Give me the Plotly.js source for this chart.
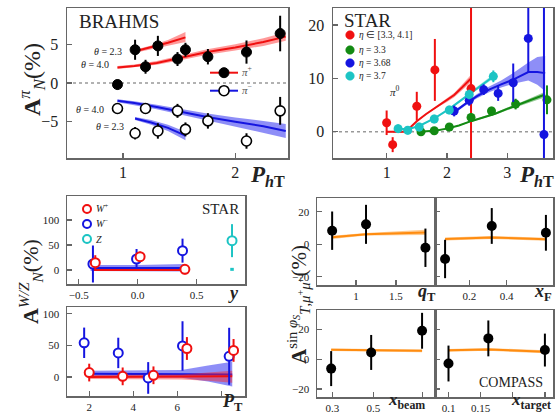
<!DOCTYPE html>
<html><head><meta charset="utf-8">
<script src="https://cdn.plot.ly/plotly-3.0.1.min.js"></script>
<style>body{margin:0;background:#fff}</style>
</head><body><div id="chart" style="width:560px;height:415px"></div>
<script>
// ---------- Panel 1: BRAHMS ----------
const brahmsPt = [0.95,1.107,1.20,1.31,1.485,1.556,1.756,2.10,2.40];
const brahmsPipA = [-0.2,4.3,2.1,4.8,3.1,4.3,3.4,4.0,6.4];
const brahmsPipErr = [0.65,1.3,0.9,1.3,0.9,0.9,1.0,1.5,2.3];
const brahmsPimA = [-3.3,-6.5,-3.3,-6.2,-3.6,-6.0,-4.9,-7.5,-3.6];
const brahmsPimErr = [0.6,0.8,0.7,1.0,0.9,0.9,1.0,1.0,1.8];
const th40Pt = [0.95,1.1,1.3,1.5,1.75,2.0,2.25,2.45];
const pip40 = [2.0,2.2,2.6,3.2,4.0,4.6,5.3,6.0];
const pip40Lo = [1.8,2.0,2.35,2.9,3.65,4.2,4.8,5.45];
const pip40Hi = [2.2,2.4,2.85,3.5,4.35,5.0,5.8,6.55];
const pim40 = [-2.3,-2.6,-3.1,-3.7,-4.4,-5.0,-5.6,-6.2];
const pim40Lo = [-2.5,-2.85,-3.4,-4.05,-4.85,-5.6,-6.4,-7.1];
const pim40Hi = [-2.1,-2.35,-2.8,-3.35,-3.95,-4.45,-4.9,-5.3];
const th23Pt = [1.107,1.25,1.4,1.556];
const pip23 = [4.1,4.6,5.2,5.9];
const pip23Lo = [3.9,4.35,4.85,5.3];
const pip23Hi = [4.3,4.85,5.55,6.6];
const pim23 = [-4.6,-5.1,-5.8,-6.8];
const pim23Lo = [-4.8,-5.4,-6.2,-7.4];
const pim23Hi = [-4.4,-4.8,-5.4,-6.3];

// ---------- Panel 2: STAR pi0 ----------
const starRedPt = [1.0,1.10,1.50,1.80,2.40];
const starRedA = [1.7,-2.4,4.8,11.6,8.1];
const starRedErr = [2.3,1.4,2.7,5.8,40];
const starGreenPt = [1.57,1.79,2.04,2.40,2.74,3.14,3.66];
const starGreenA = [0.0,0.2,0.9,2.7,3.9,5.2,6.0];
const starGreenErr = [0.5,0.5,0.6,0.8,0.8,1.0,2.7];
const starBluePt = [2.12,2.37,2.61,2.85,3.10,3.35,3.61];
const starBlueA = [3.9,5.9,7.9,7.2,9.2,17.5,-0.5];
const starBlueErr = [1.0,1.0,1.0,1.4,3.6,6.3,40];
const starCyanPt = [1.19,1.35,1.54,1.79,2.04,2.37,2.77];
const starCyanA = [0.6,0.3,0.9,2.4,4.1,7.0,10.4];
const starCyanErr = [0.8,0.8,0.8,0.8,0.8,0.9,1.1];
const thRedPt = [1.0,1.3,1.4,1.5,1.65,1.83,2.0,2.12,2.25,2.4];
const thRed = [0,0,0.9,2.0,3.3,4.7,5.9,6.9,8.3,10.0];
const thRedLo = [-0.1,-0.1,0.8,1.9,3.15,4.5,5.6,6.5,7.8,9.3];
const thRedHi = [0.1,0.1,1.0,2.1,3.45,4.9,6.2,7.3,8.8,10.7];
const thCyanPt = [1.19,1.35,1.54,1.79,2.04,2.37,2.8];
const thCyan = [0.6,0.5,1.1,2.5,4.3,7.1,10.6];
const thCyanLo = [0.5,0.4,1.0,2.35,4.1,6.85,10.2];
const thCyanHi = [0.7,0.6,1.2,2.65,4.5,7.35,11.0];
const thGreenPt = [1.53,1.8,2.0,2.2,2.4,2.6,2.8,3.0,3.2,3.4,3.63];
const thGreen = [0,0.2,0.6,1.2,2.0,2.7,3.4,4.3,5.1,6.0,7.0];
const thGreenLo = [-0.1,0.1,0.5,1.1,1.85,2.5,3.2,4.05,4.8,5.6,6.5];
const thGreenHi = [0.1,0.3,0.7,1.3,2.15,2.9,3.6,4.55,5.4,6.4,7.5];
const thBluePt = [2.11,2.3,2.5,2.7,2.9,3.1,3.35,3.5,3.63];
const thBlue = [3.6,5.2,6.7,7.9,8.9,9.8,11.2,11.2,11.0];
const thBlueLo = [3.3,4.9,6.3,7.4,8.3,9.0,9.6,8.8,7.6];
const thBlueHi = [3.9,5.5,7.1,8.5,9.6,11.0,13.0,14.0,14.2];

// ---------- Panel 3: STAR W/Z vs y ----------
const wpY = [-0.36,0.02,0.40];
const wpYA = [14.6,26.7,1.3];
const wpYErr = [15,10,10];
const wmY = [-0.38,-0.01,0.38];
const wmYA = [12,22,38.7];
const wmYErr = [37,20,24];
const zY = [0.80];
const zYA = [58.7];
const zYErr = [33];
const zThY = [0.785,0.815];
const zTh = [1.3,1.3];
const thWmY = [-0.4,0.0,0.4];
const thWmYc = [4,4,4];
const thWmYLo = [-2,-2,-3];
const thWmYHi = [10,10,12];
const thWpY = [-0.38,0.0,0.4];
const thWpYc = [0,0,0];
const thWpYLo = [-2,-2,-2];
const thWpYHi = [2,2,2];

// ---------- Panel 4: STAR W vs PT ----------
const wmPt = [1.77,3.32,4.68,6.24,8.36];
const wmPtA = [54,38,-1.5,49,32.7];
const wmPtErr = [24,24,25,39,45];
const wpPt = [2.0,3.52,4.92,6.44,8.56];
const wpPtA = [7,1,2.7,45,42];
const wpPtErr = [14,14,14,18,18];
const thPt = [2,3.5,5,6.2,7.4,8.5];
const thWmPt = [5,5,5,5,4.5,4];
const thWmPtLo = [0,0,0,-1,-7,-15];
const thWmPtHi = [10,10,10,11,18,24];
const thWpPt = [0,0,0,0.5,1,1];
const thWpPtLo = [-3,-3,-3,-4,-6,-9];
const thWpPtHi = [3,3,3,4,7,10];

// ---------- Panels 5-8: COMPASS ----------
const qT = [0.70,1.125,1.87];
const qTA = [8.4,12.3,-2.1];
const qTErr = [11.8,12,11.8];
const qTTh = [4.3,6.2,7.3];
const qTThLo = [3.3,5.4,5.7];
const qTThHi = [5.3,7.0,8.9];
const xF = [0.07,0.32,0.61];
const xFA = [-9,11.3,7.1];
const xFErr = [11.8,11,11];
const xFTh = [3.3,4.2,3.1];
const xFThLo = [2.4,3.3,2.2];
const xFThHi = [4.2,5.1,4.0];
const xBeam = [0.294,0.489,0.737];
const xBeamA = [-6.3,4.5,19];
const xBeamErr = [11.7,11.7,12];
const xBeamTh = [6.3,6.0,5.6];
const xBeamThLo = [5.4,5.1,4.7];
const xBeamThHi = [7.2,6.9,6.5];
const xTarget = [0.10,0.162,0.25];
const xTargetA = [-2.9,13.9,6.1];
const xTargetErr = [12,12,11];
const xTargetTh = [5.9,6.5,5.0];
const xTargetThLo = [5.0,5.6,4.0];
const xTargetThHi = [6.8,7.4,6.0];

// ---------- colours ----------
const RED = '#f01010', BLUE = '#1515e0', GREEN = '#138a13', CYAN = '#1cc4c4', ORANGE = '#ff8c10';
const RED_B = 'rgba(255,30,30,0.45)', BLUE_B = 'rgba(30,30,240,0.5)', GREEN_B = 'rgba(20,140,20,0.45)',
      CYAN_B = 'rgba(30,200,200,0.45)', ORANGE_B = 'rgba(255,150,30,0.5)';
const SERIF = 'Liberation Serif, Times New Roman, serif';

const W = 560, H = 415;
const px = v => v / W, py = v => 1 - v / H;

const traces = [];
function band(n, x, lo, hi, fc) {
  traces.push({type:'scatter', mode:'lines', x:x, y:lo, xaxis:'x'+n, yaxis:'y'+n,
    line:{width:0, color:fc}, hoverinfo:'skip'});
  traces.push({type:'scatter', mode:'lines', x:x, y:hi, xaxis:'x'+n, yaxis:'y'+n,
    line:{width:0, color:fc}, fill:'tonexty', fillcolor:fc, hoverinfo:'skip'});
}
function line(n, x, y, c, w) {
  traces.push({type:'scatter', mode:'lines', x:x, y:y, xaxis:'x'+n, yaxis:'y'+n,
    line:{width:w||2, color:c}});
}
function pts(n, x, y, e, c, fill, size, lw) {
  traces.push({type:'scatter', mode:'markers', x:x, y:y, xaxis:'x'+n, yaxis:'y'+n,
    marker:{size:size, color:fill, line:{color:c, width:lw}},
    error_y:{type:'data', array:e, visible:true, color:c, thickness:2, width:0}});
}

// panel 1
band('', th40Pt, pip40Lo, pip40Hi, RED_B); line('', th40Pt, pip40, RED, 2);
band('', th23Pt, pip23Lo, pip23Hi, RED_B); line('', th23Pt, pip23, RED, 2);
band('', th40Pt, pim40Lo, pim40Hi, BLUE_B); line('', th40Pt, pim40, BLUE, 2);
band('', th23Pt, pim23Lo, pim23Hi, BLUE_B); line('', th23Pt, pim23, BLUE, 2);
pts('', brahmsPt, brahmsPipA, brahmsPipErr, '#000', '#000', 10, 1);
pts('', brahmsPt, brahmsPimA, brahmsPimErr, '#000', '#fff', 10, 1.6);

// panel 2
band('2', thRedPt, thRedLo, thRedHi, RED_B); line('2', thRedPt, thRed, RED, 2);
band('2', thGreenPt, thGreenLo, thGreenHi, GREEN_B); line('2', thGreenPt, thGreen, GREEN, 2);
band('2', thBluePt, thBlueLo, thBlueHi, BLUE_B); line('2', thBluePt, thBlue, BLUE, 2);
band('2', thCyanPt, thCyanLo, thCyanHi, CYAN_B); line('2', thCyanPt, thCyan, CYAN, 2);
pts('2', starRedPt, starRedA, starRedErr, RED, RED, 9, 0);
pts('2', starGreenPt, starGreenA, starGreenErr, GREEN, GREEN, 9, 0);
pts('2', starBluePt, starBlueA, starBlueErr, BLUE, BLUE, 9, 0);
pts('2', starCyanPt, starCyanA, starCyanErr, CYAN, CYAN, 9, 0);

// panel 3
band('3', thWmY, thWmYLo, thWmYHi, BLUE_B); line('3', thWmY, thWmYc, BLUE, 2);
band('3', thWpY, thWpYLo, thWpYHi, RED_B); line('3', thWpY, thWpYc, RED, 2);
line('3', zThY, zTh, CYAN, 3);
pts('3', wmY, wmYA, wmYErr, BLUE, '#fff', 9, 2);
pts('3', wpY, wpYA, wpYErr, RED, '#fff', 9, 2);
pts('3', zY, zYA, zYErr, CYAN, '#fff', 9, 2);

// panel 4
band('4', thPt, thWmPtLo, thWmPtHi, BLUE_B); line('4', thPt, thWmPt, BLUE, 2);
band('4', thPt, thWpPtLo, thWpPtHi, RED_B); line('4', thPt, thWpPt, RED, 2);
pts('4', wmPt, wmPtA, wmPtErr, BLUE, '#fff', 9, 2);
pts('4', wpPt, wpPtA, wpPtErr, RED, '#fff', 9, 2);

// panels 5-8
band('5', qT, qTThLo, qTThHi, ORANGE_B); line('5', qT, qTTh, ORANGE, 2);
pts('5', qT, qTA, qTErr, '#000', '#000', 10, 0);
band('6', xF, xFThLo, xFThHi, ORANGE_B); line('6', xF, xFTh, ORANGE, 2);
pts('6', xF, xFA, xFErr, '#000', '#000', 10, 0);
band('7', xBeam, xBeamThLo, xBeamThHi, ORANGE_B); line('7', xBeam, xBeamTh, ORANGE, 2);
pts('7', xBeam, xBeamA, xBeamErr, '#000', '#000', 10, 0);
band('8', xTarget, xTargetThLo, xTargetThHi, ORANGE_B); line('8', xTarget, xTargetTh, ORANGE, 2);
pts('8', xTarget, xTargetA, xTargetErr, '#000', '#000', 10, 0);

// ---------- axes ----------
const FRAME = '#666';
function axis(dom, range, tv, tt, anchor, fs, opts) {
  opts = opts || {};
  const a = {domain:dom, range:range, tickvals:tv, ticktext:tt, tickmode:'array', anchor:anchor,
    showline:true, mirror:true, linecolor:FRAME, linewidth:1.5, ticks:'inside', ticklen:5,
    tickcolor:FRAME, tickwidth:1.2, showgrid:false, zeroline:false,
    showticklabels:opts.noLabels ? false : true, ticklabelstandoff:(opts.standoff!==undefined ? opts.standoff : 4),
    tickfont:{family:SERIF, size:fs, color:'#222'}, fixedrange:true};
  if (opts.minor) a.minor = {tickmode:'array', tickvals:opts.minor, ticks:'inside', ticklen:5,
    tickcolor:FRAME, tickwidth:1.2, showgrid:false};
  return a;
}
const dTop = [py(158), py(8)];
const layout = {
  width:W, height:H, margin:{l:0,r:0,t:0,b:0}, showlegend:false,
  paper_bgcolor:'#fff', plot_bgcolor:'#fff',
  xaxis: axis([px(67),px(288)], [0.5,2.47], [1,2], ['1','2'], 'y', 16, {standoff:-1}),
  yaxis: axis(dTop, [-9.7,9.7], [-5,0,5], ['\u22125','0','5'], 'x', 16),
  xaxis2: axis([px(333),px(553)], [0.11,3.76], [1,2,3], ['1','2','3'], 'y2', 16, {standoff:-1}),
  yaxis2: axis(dTop, [-4.9,23.2], [0,10,20], ['0','10','20'], 'x2', 16),
  xaxis3: axis([px(67),px(245)], [-0.60,0.91], [-0.5,0,0.5], ['\u22120.5','0.0','0.5'], 'y3', 11, {standoff:0}),
  yaxis3: axis([py(284),py(196)], [-28,148], [0,50,100], ['0','50','100'], 'x3', 11),
  xaxis4: axis([px(67),px(245)], [0.99,9.08], [2,4,6], ['2','4','6'], 'y4', 11, {standoff:0, minor:[8]}),
  yaxis4: axis([py(396),py(307)], [-30,110.5], [0,50,100], ['0','50','100'], 'x4', 11),
  xaxis5: axis([px(317),px(435)], [0.51,1.99], [1,1.5], ['1','1.5'], 'y5', 11, {standoff:0}),
  yaxis5: axis([py(285),py(198)], [-25,28.5], [-20,0,20], ['\u221220','0','20'], 'x5', 11),
  xaxis6: axis([px(435),px(553)], [0.016,0.648], [0.2,0.4], ['0.2','0.4'], 'y6', 11, {standoff:0}),
  yaxis6: axis([py(285),py(198)], [-25,28.5], [-20,0,20], ['\u221220','0','20'], 'x6', 11, {noLabels:true}),
  xaxis7: axis([px(317),px(435)], [0.225,0.80], [0.3,0.5], ['0.3','0.5'], 'y7', 11, {standoff:0, minor:[0.74]}),
  yaxis7: axis([py(397),py(310)], [-25.3,32.9], [-20,0,20], ['\u221220','0','20'], 'x7', 11),
  xaxis8: axis([px(435),px(553)], [0.079,0.2626], [0.1,0.15], ['0.1','0.15'], 'y8', 11, {standoff:0, minor:[0.2,0.25]}),
  yaxis8: axis([py(397),py(310)], [-25.3,32.9], [-20,0,20], ['\u221220','0','20'], 'x8', 11, {noLabels:true}),
};

// ---------- shapes (zero lines, legend glyphs) ----------
const shapes = [
  {type:'line', xref:'x domain', yref:'y', x0:0, x1:1, y0:0, y1:0, layer:'below', line:{color:'#999', width:1.5, dash:'dot'}},
  {type:'line', xref:'x2 domain', yref:'y2', x0:0, x1:1, y0:0, y1:0, layer:'below', line:{color:'#999', width:1.5, dash:'dot'}},
];
function lgLine(x0, x1, y, c) { shapes.push({type:'line', xref:'paper', yref:'paper', x0:px(x0), x1:px(x1), y0:py(y), y1:py(y), line:{color:c, width:2}}); }
function lgDot(x, y, r, fill, c, w) { shapes.push({type:'circle', xref:'paper', yref:'paper', x0:px(x-r), x1:px(x+r), y0:py(y+r), y1:py(y-r), fillcolor:fill, line:{color:c, width:w}}); }
lgLine(210, 238, 72.7, RED); lgDot(224, 72.7, 5, '#000', '#000', 1);
lgLine(210, 238, 90.7, BLUE); lgDot(224, 90.7, 5, '#fff', '#000', 1.6);
lgDot(350, 35, 4.3, RED, RED, 0.5);
lgDot(350, 50, 4.3, GREEN, GREEN, 0.5);
lgDot(350, 63, 4.3, BLUE, BLUE, 0.5);
lgDot(350, 76, 4.3, CYAN, CYAN, 0.5);
lgDot(87, 209, 4, '#fff', RED, 2);
lgDot(87, 224, 4, '#fff', BLUE, 2);
lgDot(87, 239, 4, '#fff', CYAN, 2);
layout.shapes = shapes;

// ---------- annotations ----------
const anns = [];
function ann(x, y, text, size, xanchor, extra) {
  anns.push(Object.assign({xref:'paper', yref:'paper', x:px(x), y:py(y), text:text, showarrow:false,
    xanchor:xanchor||'center', yanchor:'middle', font:{family:SERIF, size:size, color:'#222'}}, extra||{}));
}
ann(77, 21, 'BRAHMS', 19, 'left');
ann(124, 51, '<i>θ</i> = 2.3', 10, 'right');
ann(111, 65, '<i>θ</i> = 4.0', 10, 'right');
ann(106, 109, '<i>θ</i> = 4.0', 10, 'right');
ann(126, 126, '<i>θ</i> = 2.3', 10, 'right');
ann(240, 71, '<i>π</i><sup>+</sup>', 11, 'left', {font:{family:SERIF, size:11, color:'#555'}});
ann(240, 89, '<i>π</i><sup>−</sup>', 11, 'left', {font:{family:SERIF, size:11, color:'#555'}});
ann(342, 20, 'STAR', 19, 'left');
ann(357, 35, '<i>η</i> ∈ [3.3, 4.1]', 9.5, 'left');
ann(357, 50, '<i>η</i> = 3.3', 9.5, 'left');
ann(357, 63, '<i>η</i> = 3.68', 9.5, 'left');
ann(357, 76, '<i>η</i> = 3.7', 9.5, 'left');
ann(395, 91, '<i>π</i><sup>0</sup>', 11, 'center');
ann(94, 208, '<i>W</i><sup>+</sup>', 10, 'left');
ann(94, 223, '<i>W</i><sup>−</sup>', 10, 'left');
ann(94, 239, '<i>Z</i>', 10, 'left');
ann(241, 209, 'STAR', 15, 'right');
ann(545, 382, 'COMPASS', 14, 'right');
// axis titles
ann(248, 176, '<b><i>P</i></b><sub><b><i>h</i>T</b></sub>', 23, 'left');
ann(517, 176, '<b><i>P</i></b><sub><b><i>h</i>T</b></sub>', 23, 'left');
ann(233, 293, '<b><i>y</i></b>', 18, 'center');
ann(220, 402, '<b><i>P</i></b><sub><b>T</b></sub>', 18, 'left');
ann(416, 292, '<b><i>q</i></b><sub><b>T</b></sub>', 18, 'left');
ann(532, 292, '<b><i>x</i></b><sub><b>F</b></sub>', 18, 'left');
ann(386, 401, '<b><i>x</i></b><sub><b>beam</b></sub>', 17, 'left');
ann(509, 401, '<b><i>x</i></b><sub><b>target</b></sub>', 17, 'left');
ann(32, 80, '<b>A</b><sup><i>π</i></sup><sub><i>N</i></sub>(%)', 24, 'center', {textangle:-90});
ann(30, 282, '<b>A</b><sup><i>W/Z</i></sup><sub><i>N</i></sub>(%)', 22, 'center', {textangle:-90});
ann(298, 305, '<b>A</b><sup>sin <i>φ</i><sub><i>S</i></sub></sup><sub><i>T</i>,<i>μ</i><sup>+</sup><i>μ</i><sup>−</sup></sub>(%)', 21, 'center', {textangle:-90});
layout.annotations = anns;

Plotly.newPlot('chart', traces, layout, {staticPlot:true, displayModeBar:false});
</script></body></html>
